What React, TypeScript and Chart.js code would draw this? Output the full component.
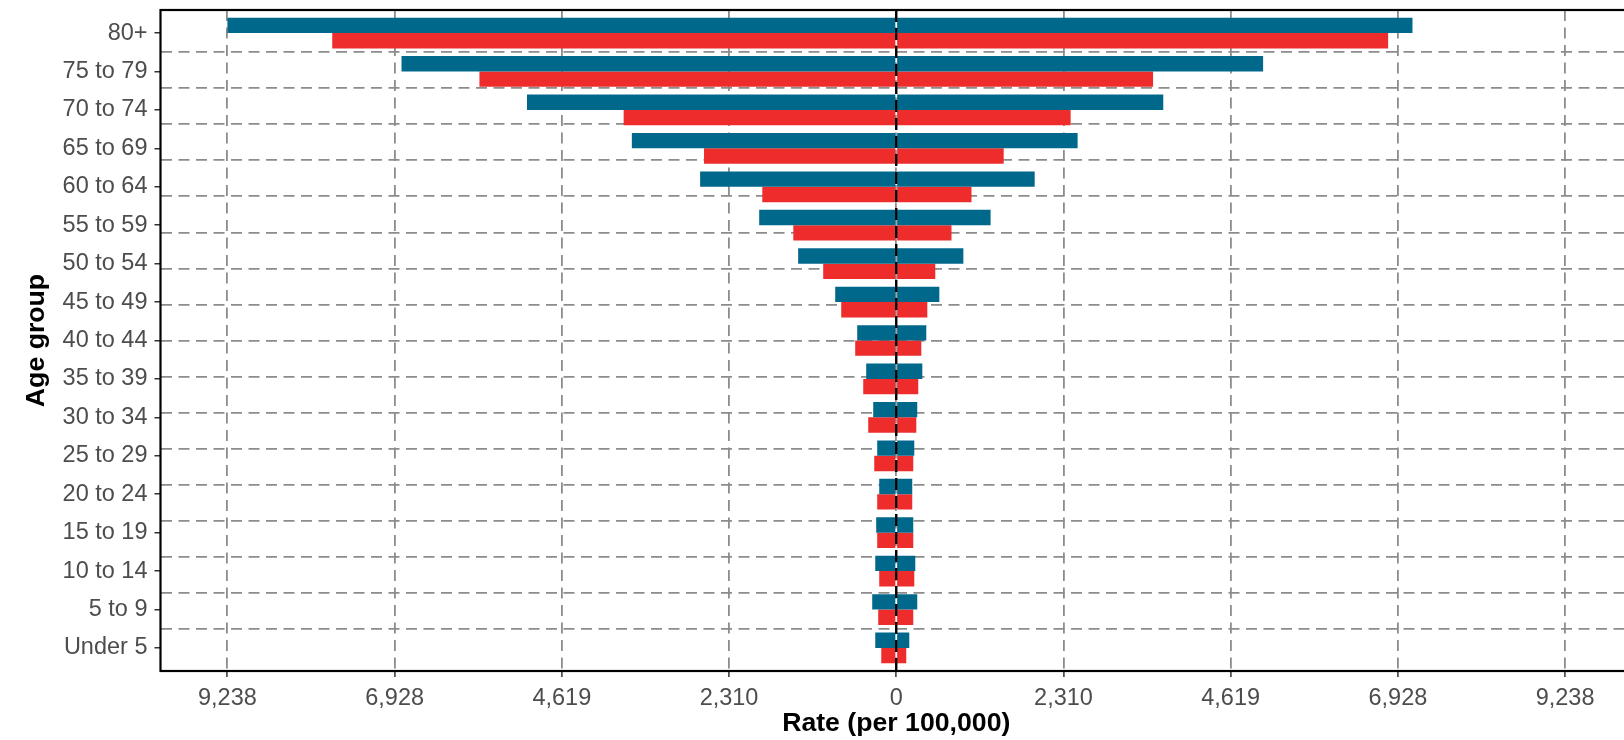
import React, { useEffect, useRef } from "react";
import { Chart, registerables } from "chart.js";

Chart.register(...registerables);

// Age groups, top to bottom
const ageGroups = [
  "80+", "75 to 79", "70 to 74", "65 to 69", "60 to 64", "55 to 59", "50 to 54",
  "45 to 49", "40 to 44", "35 to 39", "30 to 34", "25 to 29", "20 to 24",
  "15 to 19", "10 to 14", "5 to 9", "Under 5",
];

// Rates (per 100,000), top to bottom
const leftBlue = [9238, 6833, 5100, 3652, 2709, 1893, 1355, 843, 539, 415, 318, 263, 235, 277, 290, 332, 290];
const leftRed = [7790, 5757, 3765, 2655, 1850, 1422, 1009, 760, 567, 456, 387, 304, 263, 263, 235, 249, 207];
const rightBlue = [7130, 5067, 3688, 2505, 1912, 1303, 927, 595, 415, 360, 290, 249, 221, 235, 263, 290, 180];
const rightRed = [6794, 3547, 2409, 1484, 1039, 763, 539, 429, 346, 304, 277, 235, 221, 235, 249, 235, 138];

const xTickValues = [-9238, -6928.5, -4619, -2309.5, 0, 2309.5, 4619, 6928.5, 9238];
const xTickLabels = ["9,238", "6,928", "4,619", "2,310", "0", "2,310", "4,619", "6,928", "9,238"];
const xLimit = 10162;

const BLUE = "#00688B";
const RED = "#EE2C2C";
const GRID = "#8c8c8c";
const FONT = "'Liberation Sans', Arial, Helvetica, sans-serif";

const n = ageGroups.length;
const pos = (i: number) => n - i;
const toPoints = (vals: number[], sign: number) => vals.map((v, i) => ({ x: sign * v, y: pos(i) }));

const framePlugin = {
  id: "frame",
  afterDatasetsDraw(chart: any) {
    const { ctx, chartArea, scales } = chart;
    const x0 = scales.x.getPixelForValue(0);
    ctx.save();
    ctx.beginPath();
    ctx.rect(chartArea.left, chartArea.top, chartArea.right - chartArea.left, chartArea.bottom - chartArea.top);
    ctx.clip();
    ctx.strokeStyle = "#000";
    ctx.lineWidth = 2.4;
    ctx.setLineDash([12, 6]);
    ctx.beginPath();
    ctx.moveTo(x0, chartArea.top);
    ctx.lineTo(x0, chartArea.bottom);
    ctx.stroke();
    ctx.restore();
  },
  afterDraw(chart: any) {
    const { ctx, chartArea } = chart;
    ctx.save();
    ctx.strokeStyle = "#000";
    ctx.lineWidth = 2.2;
    ctx.setLineDash([]);
    ctx.strokeRect(chartArea.left, chartArea.top, chartArea.right - chartArea.left, chartArea.bottom - chartArea.top);
    ctx.restore();
  },
};

const zeroPad = (s: any) => {
  s.paddingTop = 0;
  s.paddingBottom = 0;
  s.paddingLeft = 0;
  s.paddingRight = 0;
};

export default function App() {
  const canvasRef = useRef<HTMLCanvasElement | null>(null);

  useEffect(() => {
    if (!canvasRef.current) return;
    const common = { borderWidth: 0, barPercentage: 1.0, categoryPercentage: 0.8 };
    const chart = new Chart(canvasRef.current, {
      type: "bar",
      data: {
        datasets: [
          { label: "left blue", data: toPoints(leftBlue, -1), backgroundColor: BLUE, stack: "a", ...common },
          { label: "right blue", data: toPoints(rightBlue, 1), backgroundColor: BLUE, stack: "a", ...common },
          { label: "left red", data: toPoints(leftRed, -1), backgroundColor: RED, stack: "b", ...common },
          { label: "right red", data: toPoints(rightRed, 1), backgroundColor: RED, stack: "b", ...common },
        ] as any,
      },
      options: {
        indexAxis: "y",
        animation: false,
        responsive: true,
        maintainAspectRatio: false,
        layout: { padding: { top: 10, left: 0, right: 0, bottom: 0 } },
        plugins: { legend: { display: false }, tooltip: { enabled: false } },
        scales: {
          x: {
            type: "linear",
            min: -xLimit,
            max: xLimit,
            bounds: "data",
            stacked: true,
            afterBuildTicks: (s: any) => {
              s.ticks = xTickValues.map((v) => ({ value: v }));
            },
            afterFit: (s: any) => {
              s.height = 69;
              zeroPad(s);
            },
            ticks: {
              callback: (_v: any, i: number) => xTickLabels[i],
              color: "#4D4D4D",
              font: { family: FONT, size: 23.5 },
              padding: 7,
              maxRotation: 0,
              autoSkip: false,
            },
            grid: {
              color: GRID,
              lineWidth: 1.8,
              drawTicks: true,
              tickLength: 6,
              tickColor: "#333",
              tickWidth: 1.5,
              tickBorderDash: [],
            },
            border: { display: false, dash: [11, 6.5] },
            title: {
              display: true,
              text: "Rate (per 100,000)",
              color: "#000",
              font: { family: FONT, size: 26.67, weight: "bold" },
              padding: { top: 0, bottom: 0 },
            },
          },
          y: {
            type: "linear",
            position: "left",
            min: 0.4,
            max: 17.6,
            bounds: "data",
            offset: false,
            afterBuildTicks: (s: any) => {
              s.ticks = ageGroups.map((_, i) => ({ value: pos(i) }));
            },
            afterFit: (s: any) => {
              s.width = 160.5;
              zeroPad(s);
            },
            ticks: {
              callback: (v: any) => ageGroups[n - Number(v)],
              color: "#4D4D4D",
              font: { family: FONT, size: 23.5 },
              padding: 7,
              autoSkip: false,
            },
            grid: {
              offset: false,
              drawOnChartArea: false,
              drawTicks: true,
              tickLength: 6,
              color: "#333",
              lineWidth: 1.5,
              tickColor: "#333",
              tickWidth: 1.5,
            },
            border: { display: false },
            title: {
              display: true,
              text: "Age group",
              color: "#000",
              font: { family: FONT, size: 26.67, weight: "bold" },
              padding: { top: 21, bottom: 0 },
            },
          },
          y2: {
            type: "linear",
            position: "left",
            min: 0.4,
            max: 17.6,
            bounds: "data",
            afterBuildTicks: (s: any) => {
              s.ticks = ageGroups.slice(1).map((_, i) => ({ value: pos(i) - 0.5 }));
            },
            afterFit: (s: any) => {
              s.width = 0;
              zeroPad(s);
            },
            ticks: { display: false },
            grid: {
              drawOnChartArea: true,
              drawTicks: false,
              color: GRID,
              lineWidth: 1.8,
            },
            border: { display: false, dash: [11, 6.5] },
          },
        },
      } as any,
      plugins: [framePlugin],
    });
    return () => chart.destroy();
  }, []);

  return (
    <div style={{ position: "fixed", left: 0, top: 0, width: 1624, height: 740, overflow: "hidden", background: "#fff" }}>
      <div style={{ position: "relative", width: 1632, height: 740 }}>
        <canvas ref={canvasRef} />
      </div>
    </div>
  );
}
